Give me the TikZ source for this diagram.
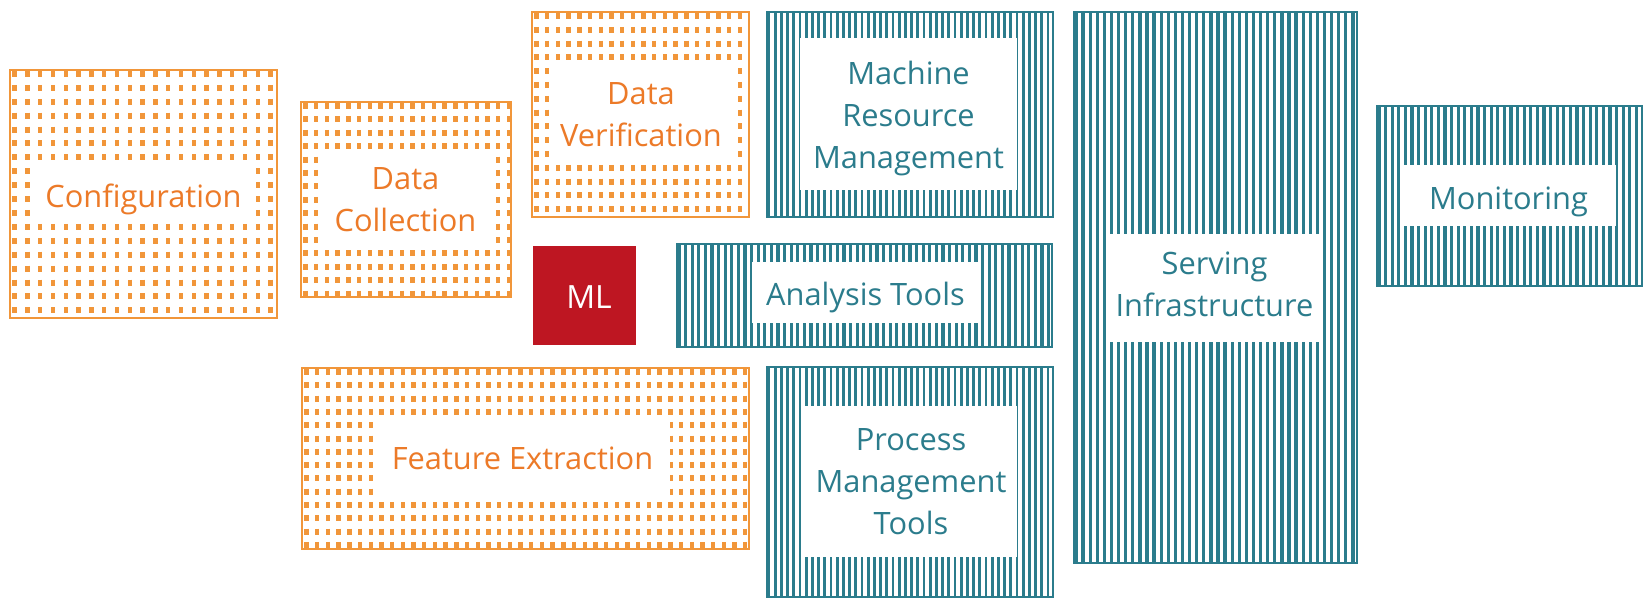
\documentclass[tikz,border=0pt]{standalone}
\usepackage{fontspec}
\setmainfont{Open Sans}
\definecolor{dotor}{RGB}{241,150,58}
\definecolor{txtor}{RGB}{236,122,40}
\definecolor{tealc}{RGB}{43,124,140}
\definecolor{mlred}{RGB}{190,22,34}
\newcommand\mydotpat[6]{%
  \begin{scope}
    \clip (#1,#2) rectangle (#3,#4);
    \pgfmathtruncatemacro\nx{(#3-#1)/#5+1}
    \pgfmathsetmacro\offl{#6-6}
    \foreach \i in {0,...,\nx}{
      \pgfmathsetmacro\xx{#1+4.5+\i*#5}
      \draw[line width=4.4pt,dotor,dash pattern=on 6pt off \offl pt] (\xx,#2+1) -- (\xx,#4);
    }
  \end{scope}}
\newcommand\mystripepat[5]{%
  \begin{scope}
    \clip (#1,#2) rectangle (#3,#4);
    \pgfmathtruncatemacro\nx{(#3-#1)/#5+1}
    \pgfmathsetmacro\lw{0.47*#5}
    \foreach \i in {0,...,\nx}{
      \pgfmathsetmacro\xx{#1+2+\i*#5}
      \draw[line width=\lw pt,tealc] (\xx,#2) -- (\xx,#4);
    }
  \end{scope}}
\tikzset{
  obord/.style={draw=dotor,line width=1.6pt,inner sep=0pt},
  tbord/.style={draw=tealc,line width=1.6pt,inner sep=0pt},
  inbox/.style={fill=white,inner sep=0pt},
  lbl/.style={inner sep=0pt,align=center,font=\fontsize{30.8}{42}\selectfont},
  otext/.style={lbl,text=txtor},
  ttext/.style={lbl,text=tealc},
}
\begin{document}
\begin{tikzpicture}[x=1pt,y=-1pt]
\useasboundingbox (0,0) rectangle (1650,607);
% orange boxes
\mydotpat{10}{70}{277}{318}{12.8}{13.9}
\node[obord,minimum width=267pt,minimum height=248pt] (conf) at (143.5,194) {};
\node[inbox,minimum width=223pt,minimum height=56pt] (confin) at (143.5,194) {};
\node[otext] (conft) at ([yshift=-5pt]confin.center) {Configuration};

\mydotpat{301}{102}{511}{297}{10.7}{13.4}
\node[obord,minimum width=210pt,minimum height=195pt] (coll) at (406,199.5) {};
\node[inbox,minimum width=175pt,minimum height=94pt] (collin) at (405.5,200) {};
\node[otext] (collt) at (collin.center) {Data\\Collection};

\mydotpat{532}{12}{749}{217}{10.7}{13.8}
\node[obord,minimum width=217pt,minimum height=205pt] (verif) at (640.5,114.5) {};
\node[inbox,minimum width=182pt,minimum height=100pt] (verifin) at (641,113) {};
\node[otext] (verift) at ([yshift=-1.5pt]verifin.center) {Data\\Verification};

\mydotpat{302}{368}{749}{549}{10.7}{13.3}
\node[obord,minimum width=447pt,minimum height=181pt] (feat) at (525.5,458.5) {};
\node[inbox,minimum width=295pt,minimum height=80pt] (featin) at (522.5,458) {};
\node[otext] (featt) at (featin.center) {Feature Extraction};

% ML
\node[fill=mlred,inner sep=0pt,minimum width=103pt,minimum height=99pt] (ml) at (584.5,295.5) {};
\node[lbl,text=white,font=\fontsize{32}{42}\selectfont] (mlt) at ([xshift=4.5pt,yshift=-2pt]ml.center) {ML};

% teal boxes
\mystripepat{767}{12}{1053}{217}{6.2}
\node[tbord,minimum width=286pt,minimum height=205pt] (mrm) at (910,114.5) {};
\node[inbox,minimum width=217pt,minimum height=152pt] (mrmin) at (908.5,114) {};
\node[ttext] (mrmt) at ([yshift=-4.5pt]mrmin.center) {Machine\\Resource\\Management};

\mystripepat{677}{244}{1052}{347}{6.6}
\node[tbord,minimum width=375pt,minimum height=103pt] (anal) at (864.5,295.5) {};
\node[inbox,minimum width=227pt,minimum height=61pt] (analin) at (865.5,292.5) {};
\node[ttext] (analt) at ([yshift=-5pt]analin.center) {Analysis Tools};

\mystripepat{767}{367}{1053}{597}{6.2}
\node[tbord,minimum width=286pt,minimum height=230pt] (proc) at (910,482) {};
\node[inbox,minimum width=212pt,minimum height=151pt] (procin) at (911,481.5) {};
\node[ttext] (proct) at (procin.center) {Process\\Management\\Tools};

\mystripepat{1074}{12}{1357}{563}{7.1}
\node[tbord,minimum width=283pt,minimum height=551pt] (serv) at (1215.5,287.5) {};
\node[inbox,minimum width=217pt,minimum height=108pt] (servin) at (1214.5,288) {};
\node[ttext] (servt) at ([yshift=4pt]servin.center) {Serving\\Infrastructure};

\mystripepat{1377}{106}{1642}{286}{6.6}
\node[tbord,minimum width=265pt,minimum height=180pt] (mon) at (1509.5,196) {};
\node[inbox,minimum width=215pt,minimum height=61pt] (monin) at (1508.5,195.5) {};
\node[ttext] (mont) at ([yshift=-6pt]monin.center) {Monitoring};
\end{tikzpicture}
\end{document}
